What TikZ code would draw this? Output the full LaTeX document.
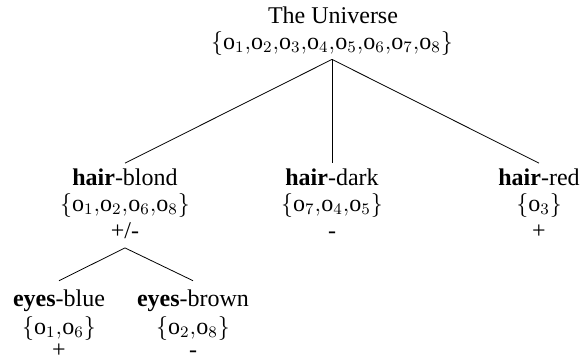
\documentclass[tikz,border=0pt]{standalone}
\usepackage{fontspec}
\setmainfont{Liberation Serif}
\newcommand{\oo}[1]{\mathrm{o}_{#1}}
\begin{document}
\begin{tikzpicture}[x=0.5pt,y=-0.5pt,
  every node/.style={inner sep=0pt, font=\fontsize{12}{14}\selectfont},
  sign/.style={text height=1.2ex, text depth=0pt},
  edge/.style={draw=black, line width=0.4pt}]
\useasboundingbox (0,0) rectangle (588,360);
% root
\node (u1) at (333,15) {The Universe};
\node (u2) at (332,43) {$\{\oo1{,}\oo2{,}\oo3{,}\oo4{,}\oo5{,}\oo6{,}\oo7{,}\oo8\}$};
% hair-blond
\node (b1) at (125,177) {\textbf{hair}-blond};
\node (b2) at (125,205) {$\{\oo1{,}\oo2{,}\oo6{,}\oo8\}$};
\node[sign] (b3) at (125,233) {+/-};
% hair-dark
\node (d1) at (332,177) {\textbf{hair}-dark};
\node (d2) at (332,205) {$\{\oo7{,}\oo4{,}\oo5\}$};
\node[sign] (d3) at (332,233) {-};
% hair-red
\node (r1) at (539,177) {\textbf{hair}-red};
\node (r2) at (539,205) {$\{\oo3\}$};
\node[sign] (r3) at (539,233) {+};
% eyes-blue
\node (e1) at (59,301) {\textbf{eyes}-blue};
\node (e2) at (59,328) {$\{\oo1{,}\oo6\}$};
\node[sign] (e3) at (59,352) {+};
% eyes-brown
\node (f1) at (193,301) {\textbf{eyes}-brown};
\node (f2) at (193,328) {$\{\oo2{,}\oo8\}$};
\node[sign] (f3) at (193,352) {-};
% connectors
\draw[edge] ([yshift=-2pt]u2.south) -- ([yshift=2.5pt]b1.north);
\draw[edge] ([yshift=-2pt]u2.south) -- ([yshift=2.5pt]d1.north);
\draw[edge] ([yshift=-2pt]u2.south) -- ([yshift=2.5pt]r1.north);
\draw[edge] ([yshift=-4.5pt]b3.south) -- ([yshift=4.5pt]e1.north);
\draw[edge] ([yshift=-4.5pt]b3.south) -- ([yshift=4.5pt]f1.north);
\end{tikzpicture}
\end{document}
